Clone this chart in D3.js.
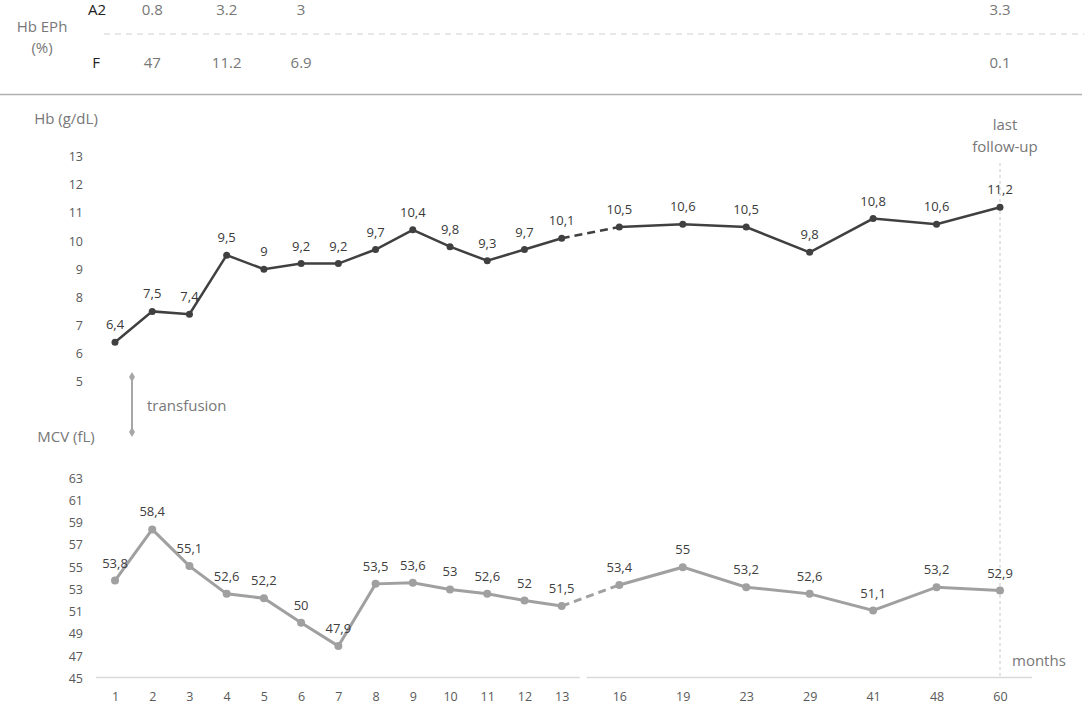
<!DOCTYPE html>
<html>
<head>
<meta charset="utf-8">
<script src="https://cdn.jsdelivr.net/npm/d3@7"></script>
<style>
  body { margin: 0; background: #fff; }
  svg { font-family: "Open Sans", "Noto Sans", sans-serif; }
</style>
</head>
<body>
<div id="chart"></div>
<script>
var width = 1084
var height = 705

// months on the x axis
var months = ["1", "2", "3", "4", "5", "6", "7", "8", "9", "10", "11", "12", "13", "16", "19", "23", "29", "41", "48", "60"];
// haemoglobin (g/dL), plotted values and printed labels
var hbValues = [6.4, 7.5, 7.4, 9.5, 9, 9.2, 9.2, 9.7, 10.4, 9.8, 9.3, 9.7, 10.1, 10.5, 10.6, 10.5, 9.6, 10.8, 10.6, 11.2];
var hbLabels = ["6,4", "7,5", "7,4", "9,5", "9", "9,2", "9,2", "9,7", "10,4", "9,8", "9,3", "9,7", "10,1", "10,5", "10,6", "10,5", "9,8", "10,8", "10,6", "11,2"];
// mean corpuscular volume (fL)
var mcvValues = [53.8, 58.4, 55.1, 52.6, 52.2, 50, 47.9, 53.5, 53.6, 53, 52.6, 52, 51.5, 53.4, 55, 53.2, 52.6, 51.1, 53.2, 52.9];
var hbTicks = [5, 6, 7, 8, 9, 10, 11, 12, 13];
var mcvTicks = [45, 47, 49, 51, 53, 55, 57, 59, 61, 63];
// Hb electrophoresis table
var ephMonths = ["2", "4", "6", "60"];
var ephA2 = ["0.8", "3.2", "3", "3.3"];
var ephF = ["47", "11.2", "6.9", "0.1"];

var svg = d3.select("#chart").append("svg")
    .attr("width", width)
    .attr("height", height);

// two-speed x scale: monthly steps up to 13, wider steps afterwards
var x = d3.scaleLinear()
    .domain([0, 12, 13, 19])
    .range([115, 561.7, 619.3, 1000]);
var xm = function(m) { return x(months.indexOf(m)); };

var yHb = d3.scaleLinear().domain([5, 13]).range([381.7, 156.7]);
var yMcv = d3.scaleLinear().domain([45, 63]).range([678.3, 478.3]);

function note(xp, yp, txt, color, anchor) {
    return svg.append("text").attr("x", xp).attr("y", yp)
        .attr("text-anchor", anchor || "middle")
        .attr("fill", color || "#777").style("font-size", "15px").text(txt);
}

// ---- top table ----
note(42, 32, "Hb EPh");
note(42, 53, "(%)");
note(97, 15, "A2", "#222");
note(96, 68, "F", "#222");

svg.append("line")
    .attr("x1", 104).attr("x2", width).attr("y1", 34).attr("y2", 34)
    .attr("stroke", "#d0d0d0").attr("stroke-width", 1).attr("stroke-dasharray", "6,5");
svg.append("line")
    .attr("x1", 0).attr("x2", 1082).attr("y1", 94.5).attr("y2", 94.5)
    .attr("stroke", "#b0b0b0").attr("stroke-width", 1.5);

svg.selectAll(".a2").data(ephA2).enter().append("text")
    .attr("class", "a2")
    .attr("x", function(d, i) { return xm(ephMonths[i]); })
    .attr("y", 15).attr("text-anchor", "middle")
    .attr("fill", "#777").style("font-size", "15px")
    .text(function(d) { return d; });
svg.selectAll(".hbf").data(ephF).enter().append("text")
    .attr("class", "hbf")
    .attr("x", function(d, i) { return xm(ephMonths[i]); })
    .attr("y", 68).attr("text-anchor", "middle")
    .attr("fill", "#777").style("font-size", "15px")
    .text(function(d) { return d; });

// ---- axes ----
note(66, 124, "Hb (g/dL)");
note(66, 442, "MCV (fL)");

function styleAxis(g) {
    g.select(".domain").remove();
    g.selectAll("text").attr("fill", "#595959").style("font-size", "12.5px")
        .style("font-family", "\"Open Sans\", sans-serif");
}

svg.append("g")
    .attr("transform", "translate(83,0)")
    .call(d3.axisLeft(yHb).tickValues(hbTicks).tickSize(0).tickPadding(0))
    .call(styleAxis);

svg.append("g")
    .attr("transform", "translate(83,0)")
    .call(d3.axisLeft(yMcv).tickValues(mcvTicks).tickSize(0).tickPadding(0))
    .call(styleAxis);

svg.append("g")
    .attr("transform", "translate(0,677)")
    .call(d3.axisBottom(x).tickValues(d3.range(months.length))
        .tickFormat(function(i) { return months[i]; }).tickSize(0).tickPadding(15))
    .call(styleAxis);

// baseline with a break between 13 and 16
var breakX = x(12) + 22;
svg.append("line")
    .attr("x1", x(0) - 19).attr("x2", breakX - 4).attr("y1", 677.5).attr("y2", 677.5)
    .attr("stroke", "#d9d9d9").attr("stroke-width", 1.5);
svg.append("line")
    .attr("x1", breakX + 3).attr("x2", x(19) + 32).attr("y1", 677.5).attr("y2", 677.5)
    .attr("stroke", "#d9d9d9").attr("stroke-width", 1.5);

// last follow-up marker
svg.append("line")
    .attr("x1", x(19)).attr("x2", x(19)).attr("y1", 163).attr("y2", 677)
    .attr("stroke", "#c8c8c8").attr("stroke-width", 1).attr("stroke-dasharray", "3,3");
note(x(19) + 5, 130, "last");
note(x(19) + 5, 152, "follow-up");
note(x(19) + 12, 666, "months", "#777", "start");

// transfusion marker
var tx = x(0) + 17;
svg.append("line")
    .attr("x1", tx).attr("x2", tx).attr("y1", 377).attr("y2", 432)
    .attr("stroke", "#a6a6a6").attr("stroke-width", 2);
svg.selectAll(".diamond").data([377, 432]).enter().append("path")
    .attr("class", "diamond")
    .attr("d", d3.symbol().type(d3.symbolDiamond).size(30))
    .attr("transform", function(d) { return "translate(" + tx + "," + d + ")"; })
    .attr("fill", "#a6a6a6");
note(tx + 15, 411, "transfusion", "#777", "start");

// ---- series ----
function drawSeries(values, labels, y, color, strokeW, r, labelColor) {
    var pts = values.map(function(v, i) { return [x(i), y(v)]; });
    var line = d3.line();
    svg.append("path")
        .attr("d", line(pts.slice(0, 13)))
        .attr("fill", "none").attr("stroke", color).attr("stroke-width", strokeW);
    svg.append("path")
        .attr("d", line(pts.slice(12, 14)))
        .attr("fill", "none").attr("stroke", color).attr("stroke-width", strokeW)
        .attr("stroke-dasharray", "8,5");
    svg.append("path")
        .attr("d", line(pts.slice(13)))
        .attr("fill", "none").attr("stroke", color).attr("stroke-width", strokeW);
    svg.selectAll(null).data(values).enter().append("circle")
        .attr("cx", function(d, i) { return x(i); })
        .attr("cy", function(d) { return y(d); })
        .attr("r", r).attr("fill", color);
    svg.selectAll(null).data(labels).enter().append("text")
        .attr("x", function(d, i) { return x(i); })
        .attr("y", function(d, i) { return y(values[i]) - 13; })
        .attr("text-anchor", "middle")
        .attr("fill", labelColor).style("font-size", "13px")
        .text(function(d) { return d; });
}

drawSeries(hbValues, hbLabels, yHb, "#404040", 2.5, 3.5, "#3a3a3a");
drawSeries(mcvValues, mcvValues.map(function(v) { return String(v).replace(".", ","); }),
    yMcv, "#a0a0a0", 3, 4, "#404040");
</script>
</body>
</html>
